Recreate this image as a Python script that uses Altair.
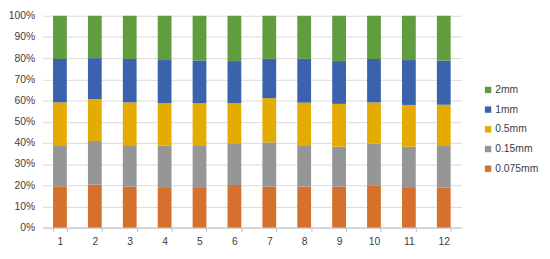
import altair as alt
import pandas as pd

categories = [str(i) for i in range(1, 13)]
series_names = ["0.075mm", "0.15mm", "0.5mm", "1mm", "2mm"]
s_0075 = [19.5, 20.3, 19.3, 18.7, 18.7, 20.1, 19.3, 19.3, 19.3, 19.7, 18.7, 18.9]
s_015 = [19.4, 20.6, 19.6, 20.0, 19.8, 19.7, 20.9, 19.6, 18.9, 19.9, 19.5, 20.0]
s_05 = [20.2, 19.8, 20.2, 20.1, 20.2, 19.0, 20.9, 20.1, 20.2, 19.5, 19.7, 19.1]
s_1 = [20.5, 19.3, 20.5, 20.3, 20.2, 19.8, 18.6, 20.7, 20.2, 20.5, 21.2, 20.8]
s_2 = [20.4, 20.0, 20.4, 20.9, 21.1, 21.4, 20.3, 20.3, 21.4, 20.4, 20.9, 21.2]
colors = ["#D5702D", "#969696", "#E4AB00", "#3B63AD", "#619C3F"]

rows = []
for k, (name, vals) in enumerate(zip(series_names, [s_0075, s_015, s_05, s_1, s_2])):
    for c, v in zip(categories, vals):
        rows.append({"cat": c, "series": name, "value": v, "order": k})
df = pd.DataFrame(rows)

font = "Liberation Sans"
text_color = "#404040"

chart = alt.Chart(df).mark_bar().encode(
    x=alt.X("cat:N", sort=categories, title=None,
            scale=alt.Scale(paddingInner=0.605, paddingOuter=0.3025),
            axis=alt.Axis(labelAngle=0, tickBand="extent", tickSize=4,
                          tickColor="#BFBFBF", domainColor="#BFBFBF",
                          labelPadding=5, grid=False)),
    y=alt.Y("value:Q", stack="normalize", title=None,
            scale=alt.Scale(domain=[0, 1]),
            axis=alt.Axis(format=".0%", values=[i / 10 for i in range(11)],
                          domain=False, ticks=False, labelPadding=8,
                          gridColor="#D9D9D9")),
    color=alt.Color("series:N",
                    scale=alt.Scale(domain=series_names[::-1], range=colors[::-1]),
                    legend=alt.Legend(title=None, orient="none", legendX=447, legendY=70,
                                      symbolType="square", symbolSize=42,
                                      symbolStrokeWidth=0, rowPadding=9,
                                      labelOffset=2,
                                      labelFontSize=10.5, labelColor=text_color,
                                      labelFont=font)),
    order=alt.Order("order:Q", sort="ascending"),
).properties(
    width=425, height=215,
    autosize=alt.AutoSizeParams(type="none"),
    padding={"left": 35, "top": 6, "right": 82, "bottom": 30},
).configure_axis(
    labelFont=font, labelFontSize=10.5, labelColor=text_color,
).configure_view(stroke=None)

chart.save("out.html", embed_options={"renderer": "svg", "actions": False})
